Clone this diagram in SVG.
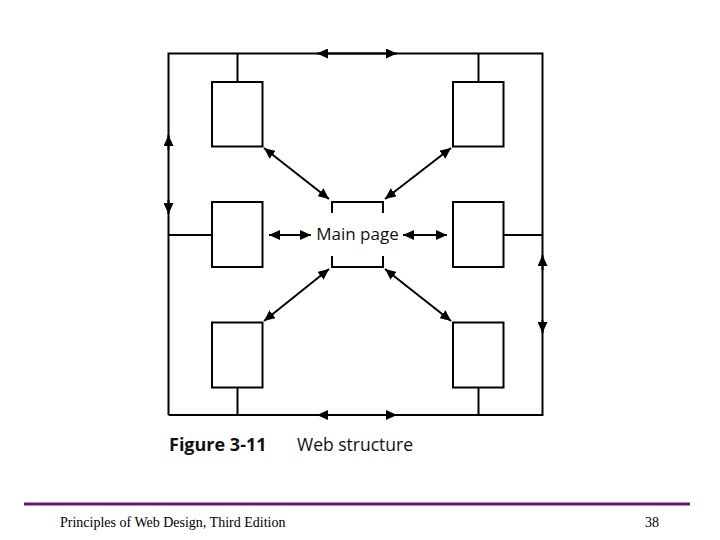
<svg xmlns="http://www.w3.org/2000/svg" width="720" height="540" viewBox="0 0 720 540">
<style>
.ln{fill:none;stroke:#000;stroke-width:2}
.ar{fill:none;stroke:#000;stroke-width:2;marker-end:url(#ah)}
.dar{fill:none;stroke:#000;stroke-width:2;marker-start:url(#ah);marker-end:url(#ah)}
.box{fill:#fff;stroke:#000;stroke-width:2}
.sans{font-family:"Open Sans","Liberation Sans",sans-serif;fill:#111}
.serif{font-family:"Liberation Serif","Times New Roman",serif;font-size:14px;fill:#000}
</style>
<defs>
<marker id="ah" markerUnits="userSpaceOnUse" markerWidth="12" markerHeight="10" refX="11" refY="5" orient="auto-start-reverse" viewBox="0 0 12 10">
<path d="M0,0 L11,5 L0,10 z" fill="#000"/>
</marker>
</defs>
<rect width="720" height="540" fill="#fff"/>
<g id="connectors">
<path class="ln" d="M168.5,415 V53.5 H542.5 V415 H168.5"/>
<path class="ar" d="M357,53.5 H317"/>
<path class="ar" d="M357,53.5 H397"/>
<path class="ar" d="M357,415 H317"/>
<path class="ar" d="M357,415 H397"/>
<path class="ar" d="M168.5,150 V135"/>
<path class="ar" d="M168.5,200 V214"/>
<path class="ar" d="M542.5,270 V255"/>
<path class="ar" d="M542.5,320 V333"/>
<path class="ln" d="M237.5,53.5 V82 M478.5,53.5 V82 M237.5,387.5 V415 M478.5,387.5 V415 M168.5,235 H212 M503,235 H542.5"/>
<path class="dar" d="M269,235 H311"/>
<path class="dar" d="M403,235 H447"/>
<path class="dar" d="M264,148 L329,199"/>
<path class="dar" d="M451,148 L385,199"/>
<path class="dar" d="M264,321 L329,269"/>
<path class="dar" d="M451,321 L385,269"/>
</g>
<g id="top-left"><rect class="box" x="212" y="82" width="50.5" height="64.5"/></g>
<g id="top-right"><rect class="box" x="453" y="82" width="50.5" height="64.5"/></g>
<g id="mid-left"><rect class="box" x="212" y="202" width="50.5" height="65"/></g>
<g id="mid-right"><rect class="box" x="453" y="202" width="50.5" height="65"/></g>
<g id="bottom-left"><rect class="box" x="212" y="322.5" width="50.5" height="65"/></g>
<g id="bottom-right"><rect class="box" x="453" y="322.5" width="50.5" height="65"/></g>
<g id="main-page">
<path class="ln" d="M332,213 V202 H383 V213 M332,256 V267 H383 V256"/>
<text class="sans" x="357.5" y="240" font-size="17" text-anchor="middle">Main page</text>
</g>
<g id="caption">
<text class="sans" x="169" y="451" font-size="18" font-weight="bold">Figure 3-11</text>
<text class="sans" x="297" y="451" font-size="17.5">Web structure</text>
</g>
<g id="footer">
<line x1="24" y1="504" x2="690" y2="504" stroke="#6b1670" stroke-width="3"/>
<text class="serif" x="60" y="527">Principles of Web Design, Third Edition</text>
<text class="serif" x="659" y="527" text-anchor="end">38</text>
</g>
</svg>
